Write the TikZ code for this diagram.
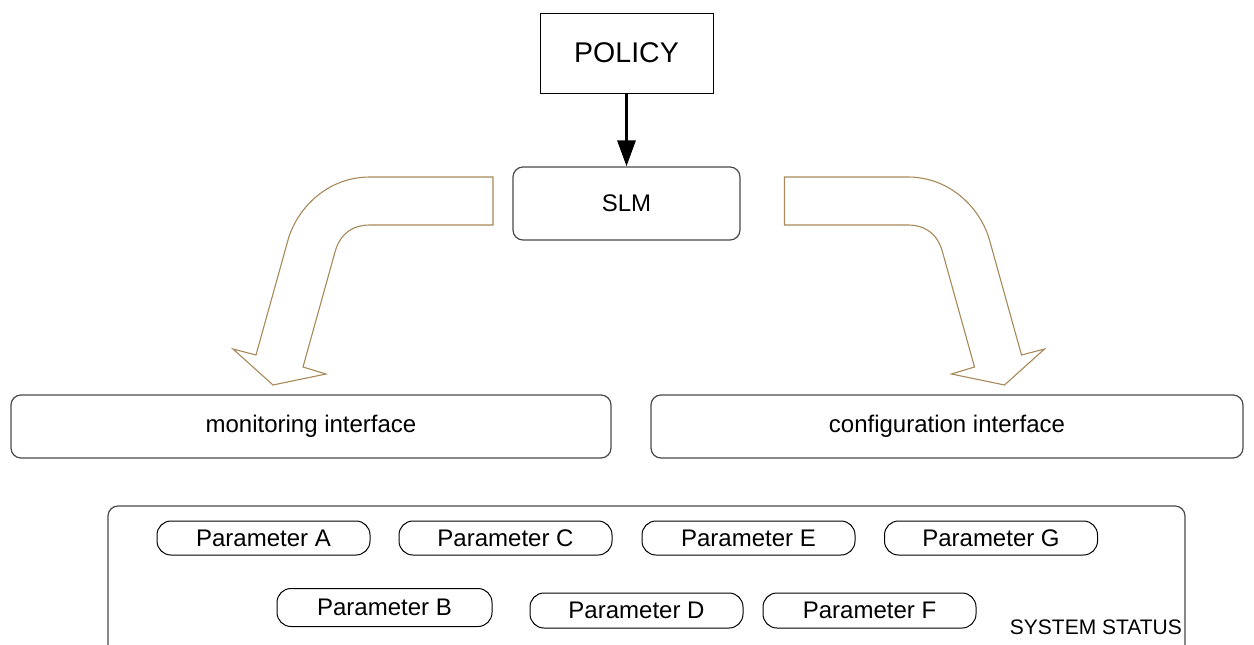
\documentclass[tikz,border=0pt]{standalone}
\usepackage{fontspec}
\setmainfont{Liberation Sans}
\usetikzlibrary{arrows.meta}
\definecolor{flowtan}{HTML}{A8895A}
\definecolor{edgegray}{HTML}{4A4A4A}
\tikzset{
  txt/.style={font=\fontsize{24}{28}\selectfont, inner sep=0pt},
  plainbox/.style={draw=black, line width=1pt, txt},
  roundbox/.style={draw=edgegray, line width=1.2pt, rounded corners=10pt, txt},
  parambox/.style={draw=black, line width=1pt, rounded corners=14pt, txt},
  flowarrow/.style={draw=flowtan, line width=1.1pt, fill=white, line join=miter},
}
\newcommand{\boxat}[6]{% name, style, x1, y1, x2, y2 (text set separately)
  \path[#2] (#3,#4) rectangle (#5,#6);
  \coordinate (#1) at ({(#3+#5)/2},{(#4+#6)/2});
}
\begin{document}
\begin{tikzpicture}[x=1pt, y=-1pt]
\useasboundingbox (0,0) rectangle (1254,645);
\clip (0,0) rectangle (1254,645);

% policy and SLM
\node[plainbox, minimum width=173pt, minimum height=80pt, font=\fontsize{28.5}{32}\selectfont]
  (policy) at (626.5,53) {POLICY};
\node[roundbox, minimum width=227pt, minimum height=73pt] (slm) at (626.5,203.5) {SLM};
\draw[line width=3pt, -{Triangle[length=26pt, width=18pt]}] (policy.south) -- (slm.north);

% interfaces
\node[roundbox, minimum width=600pt, minimum height=63pt] (mon) at (311,426.5) {monitoring interface};
\node[roundbox, minimum width=592pt, minimum height=63pt] (cfg) at (947,426.5) {configuration interface};

% curved block arrow to the monitoring interface
\draw[flowarrow] (493,177) -- (370,177)
  .. controls (325,177) and (296,211) .. (288,240)
  -- (256,355) -- (233,349) -- (273,385) -- (326,374) -- (303,367)
  -- (335,252)
  .. controls (340,234) and (352,225) .. (370,225)
  -- (493,225) -- cycle;

% mirrored block arrow to the configuration interface
\begin{scope}[xshift=1277.5pt, xscale=-1]
\draw[flowarrow] (493,177) -- (370,177)
  .. controls (325,177) and (296,211) .. (288,240)
  -- (256,355) -- (233,349) -- (273,385) -- (326,374) -- (303,367)
  -- (335,252)
  .. controls (340,234) and (352,225) .. (370,225)
  -- (493,225) -- cycle;
\end{scope}

% system status panel (runs past the lower edge)
\draw[edgegray, line width=1.2pt, rounded corners=10pt] (108,720) -- (108,506) -- (1185,506) -- (1185,720);
\node[font=\fontsize{21}{24}\selectfont, anchor=base east, inner sep=0pt] (status) at (1182,634) {SYSTEM STATUS};

% parameters, upper row
\node[parambox, minimum width=213pt, minimum height=34pt] (pa) at (263.5,538) {Parameter A};
\node[parambox, minimum width=213pt, minimum height=34pt] (pc) at (505.5,538) {Parameter C};
\node[parambox, minimum width=213pt, minimum height=34pt] (pe) at (748.5,538) {Parameter E};
\node[parambox, minimum width=213pt, minimum height=34pt] (pg) at (991,538) {Parameter G};
% parameters, lower row
\node[parambox, minimum width=215pt, minimum height=38pt] (pb) at (384.5,607.5) {Parameter B};
\node[parambox, minimum width=213pt, minimum height=35pt] (pd) at (636.5,610.5) {Parameter D};
\node[parambox, minimum width=213pt, minimum height=35pt] (pf) at (869.5,610.5) {Parameter F};
\end{tikzpicture}
\end{document}
